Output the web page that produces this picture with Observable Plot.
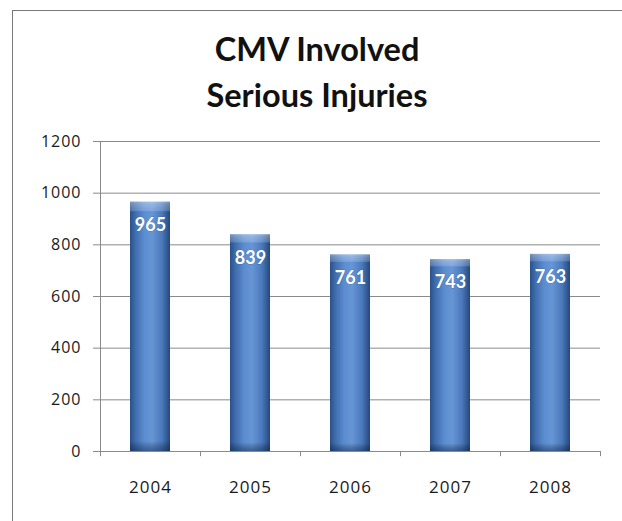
<!DOCTYPE html>
<html>
<head>
<meta charset="utf-8">
<script src="https://cdn.jsdelivr.net/npm/d3@7"></script>
<script src="https://cdn.jsdelivr.net/npm/@observablehq/plot@0.6"></script>
<style>
  html, body { margin: 0; padding: 0; background: #fff; width: 622px; height: 521px; overflow: hidden; }
  #frame { position: absolute; left: 12px; top: 10px; width: 620px; height: 520px;
           border-left: 1.5px solid #7a7a7a; border-top: 1.5px solid #7a7a7a; }
  #title { position: absolute; left: 0; top: 26px; width: 634px; text-align: center;
           font-family: Lato, "Open Sans", sans-serif; font-weight: bold; font-size: 32.5px;
           line-height: 46px; color: #111; }
  #chart { position: absolute; left: 0; top: 120px; }
  g[aria-label="y-axis tick label"] text { letter-spacing: 1px; }
  g[aria-label="x-axis tick label"] text { letter-spacing: 1px; }
</style>
</head>
<body>
<div id="frame"></div>
<div id="title">CMV Involved<br>Serious Injuries</div>
<div id="chart"></div>
<script>
const years = ["2004", "2005", "2006", "2007", "2008"];
const injuries = [965, 839, 761, 743, 763];
const yTicks = [0, 200, 400, 600, 800, 1000, 1200];

const data = years.map((y, i) => ({year: y, value: injuries[i]}));
const gridTicks = yTicks.filter(t => t > 0);

const chart = Plot.plot({
  width: 622,
  height: 401,
  marginTop: 21,
  marginBottom: 70,
  marginLeft: 100,
  marginRight: 22,
  style: {fontFamily: "'Open Sans', Lato, sans-serif", fontSize: "15px", color: "#222", background: "transparent"},
  x: {domain: years, paddingInner: 0.6, paddingOuter: 0.3, label: null},
  y: {domain: [0, 1200], ticks: yTicks, label: null},
  marks: [
    Plot.ruleY(gridTicks, {stroke: "#8a8a8a", strokeWidth: 1, strokeOpacity: 1}),
    Plot.ruleY([0], {stroke: "#8a8a8a", strokeWidth: 1}),
    Plot.ruleX([years[0]], {dx: -50, y1: 0, y2: 1200, stroke: "#8a8a8a", strokeWidth: 1}),
    Plot.ruleX(years, {dx: -50, y1: 0, y2: -20, stroke: "#8a8a8a", strokeWidth: 1}),
    Plot.ruleX([years[years.length - 1]], {dx: 50, y1: 0, y2: -20, stroke: "#8a8a8a", strokeWidth: 1}),
    Plot.axisY({ticks: yTicks, tickSize: 7, tickPadding: 12, stroke: "#8a8a8a", tickFormat: d => String(d), fontSize: 16, fill: "#1a1a1a"}),
    Plot.axisX({tickSize: 0, tickPadding: 29, fontSize: 17, fill: "#1a1a1a"}),
    Plot.barY(data, {x: "year", y: "value", fill: "url(#barH)"}),
    Plot.barY(data, {x: "year", y: "value", fill: "url(#barV)"}),
    Plot.text(data, {x: "year", y: "value", text: d => String(d.value), dy: 23, fill: "white",
      fontFamily: "Lato, 'Open Sans', sans-serif", fontWeight: "bold", fontSize: 18,
      stroke: "#3a64a0", strokeWidth: 1, strokeOpacity: 0.6, paintOrder: "stroke"})
  ]
});

const svg = d3.select(chart);
const defs = svg.insert("defs", ":first-child");
const gh = defs.append("linearGradient").attr("id", "barH").attr("x1", "0").attr("x2", "1").attr("y1", "0").attr("y2", "0");
[["0%", "#2a5089"], ["12%", "#3d6aaa"], ["35%", "#5b8ccf"], ["55%", "#6796d6"], ["80%", "#4a78bb"], ["100%", "#24487c"]]
  .forEach(([o, c]) => gh.append("stop").attr("offset", o).attr("stop-color", c));
const gv = defs.append("linearGradient").attr("id", "barV").attr("x1", "0").attr("x2", "0").attr("y1", "0").attr("y2", "1");
[["0%", "#ffffff", 0.4], ["1%", "#ffffff", 0.3], ["3.5%", "#dbe8ff", 0.22], ["4%", "#ffffff", 0.0], ["96%", "#000000", 0.0], ["100%", "#0a1f40", 0.45]]
  .forEach(([o, c, a]) => gv.append("stop").attr("offset", o).attr("stop-color", c).attr("stop-opacity", a));

document.getElementById("chart").appendChild(chart);
</script>
</body>
</html>
